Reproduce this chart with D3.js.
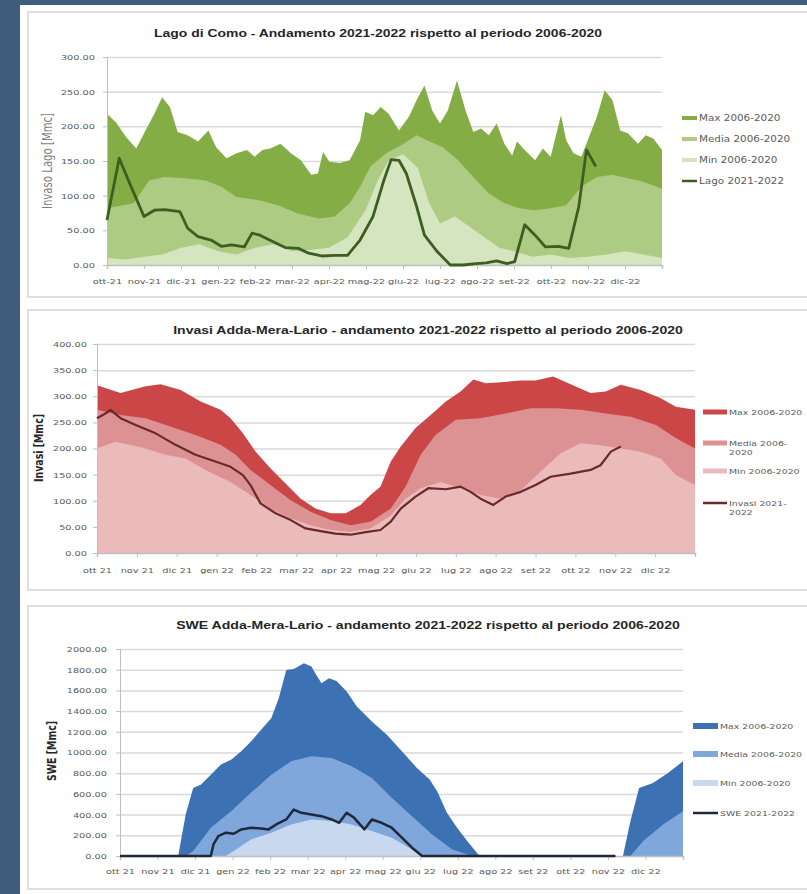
<!DOCTYPE html>
<html>
<head>
<meta charset="utf-8">
<script src="https://cdn.jsdelivr.net/npm/d3@7"></script>
<style>
body{margin:0;background:#3f5d7d}
svg{display:block}
</style>
</head>
<body>
<svg id="chart" width="807" height="894"></svg>
<script>
// month index (0 = start of ott-21, 15 = end of dic-22), value
var comoMonths = ["ott-21","nov-21","dic-21","gen-22","feb-22","mar-22","apr-22","mag-22","giu-22","lug-22","ago-22","set-22","ott-22","nov-22","dic-22"];
var otherMonths = ["ott 21","nov 21","dic 21","gen 22","feb 22","mar 22","apr 22","mag 22","giu 22","lug 22","ago 22","set 22","ott 22","nov 22","dic 22"];

var comoTicks = [0,50,100,150,200,250,300];
var invasiTicks = [0,50,100,150,200,250,300,350,400];
var sweTicks = [0,200,400,600,800,1000,1200,1400,1600,1800,2000];

var comoMax = [[0,218],[0.24,206],[0.51,185],[0.79,168],[1.07,197],[1.28,218],[1.49,242],[1.7,228],[1.91,192],[2.18,187],[2.46,178],[2.74,194],[2.95,170],[3.23,154],[3.5,161],[3.78,166],[3.99,156],[4.2,166],[4.41,168],[4.69,175],[4.97,161],[5.24,151],[5.52,130],[5.7,132],[5.84,163],[6.01,149],[6.29,147],[6.56,151],[6.84,180],[6.98,221],[7.19,216],[7.4,228],[7.61,218],[7.89,194],[8.16,214],[8.37,238],[8.58,259],[8.79,223],[9,204],[9.21,223],[9.46,266],[9.69,223],[9.9,192],[10.11,197],[10.32,187],[10.53,204],[10.74,175],[10.95,158],[11.08,178],[11.29,166],[11.57,151],[11.78,168],[11.99,156],[12.27,216],[12.41,180],[12.61,161],[12.82,156],[13.03,185],[13.24,214],[13.45,252],[13.66,238],[13.87,194],[14.08,190],[14.35,175],[14.56,187],[14.77,182],[15,166]];
var comoMedia = [[0,82],[0.72,89],[1.14,122],[1.56,127],[2.11,125],[2.67,122],[3.09,113],[3.5,98],[4.06,94],[4.62,86],[5.17,74],[5.73,67],[6.15,70],[6.56,89],[6.84,113],[7.12,142],[7.54,161],[7.96,173],[8.37,187],[8.65,180],[9.07,170],[9.49,151],[9.9,127],[10.32,103],[10.74,89],[11.15,82],[11.57,79],[11.99,82],[12.41,86],[12.82,113],[13.24,127],[13.66,130],[14.08,125],[14.49,120],[15,110]];
var comoMin = [[0,10],[0.5,8],[1,12],[1.5,15],[2,25],[2.5,30],[3,20],[3.5,15],[4,25],[4.5,30],[5,20],[5.5,22],[6,25],[6.5,40],[7,80],[7.3,120],[7.6,150],[8,160],[8.4,140],[8.7,90],[9,60],[9.4,70],[9.8,55],[10.2,40],[10.6,25],[11,20],[11.5,12],[12,15],[12.5,10],[13,12],[13.5,15],[14,20],[14.5,15],[15,10]];
var comoLago = [[0,65],[0.33,154],[0.65,113],[1,70],[1.28,79],[1.56,80],[1.97,77],[2.18,53],[2.46,41],[2.81,36],[3.09,27],[3.37,29],[3.71,26],[3.92,46],[4.13,43],[4.48,34],[4.83,25],[5.17,24],[5.45,17],[5.8,13],[6.15,14],[6.5,14],[6.84,36],[7.19,70],[7.47,120],[7.68,152],[7.89,151],[8.09,132],[8.37,84],[8.58,43],[8.93,19],[9.28,0],[9.62,0],[9.97,2],[10.25,3],[10.53,6],[10.81,2],[11.02,5],[11.29,58],[11.57,43],[11.85,26],[12.2,27],[12.48,24],[12.75,84],[12.96,166],[13.21,142]];

var invasiMax = [[0,321],[0.59,306],[1.22,319],[1.59,323],[2.1,312],[2.6,290],[3.1,274],[3.35,258],[3.66,229],[3.98,194],[4.35,162],[4.73,133],[5.11,104],[5.48,85],[5.86,76],[6.24,76],[6.61,92],[6.86,111],[7.11,127],[7.37,175],[7.62,204],[7.99,239],[8.37,264],[8.75,290],[9.12,309],[9.44,332],[9.75,325],[10.13,327],[10.63,330],[11,330],[11.44,338],[11.88,323],[12.38,306],[12.76,309],[13.14,322],[13.64,312],[14.14,296],[14.52,280],[15,274]];
var invasiMedia = [[0,274],[0.59,264],[1.22,258],[1.84,242],[2.47,226],[3.1,207],[3.48,188],[3.85,159],[4.35,130],[4.86,101],[5.36,79],[5.86,63],[6.36,53],[6.86,60],[7.37,85],[7.74,127],[8.12,188],[8.49,226],[9,255],[9.62,258],[10.25,267],[10.88,277],[11.51,277],[12.13,274],[12.76,267],[13.39,261],[14.02,245],[14.52,220],[15,200]];
var invasiMin = [[0,200],[0.46,213],[1.09,203],[1.72,188],[2.22,181],[2.72,159],[3.35,136],[3.85,111],[4.35,85],[4.86,66],[5.36,53],[5.86,44],[6.36,40],[6.86,47],[7.37,72],[7.74,104],[8.12,124],[8.62,136],[9.12,124],[9.62,111],[10.13,104],[10.63,120],[11.13,156],[11.63,191],[12.13,210],[12.63,206],[13.14,200],[13.64,194],[14.14,181],[14.52,149],[15,130]];
var invasi2122 = [[0,258],[0.21,267],[0.34,274],[0.59,258],[0.97,245],[1.47,229],[1.97,207],[2.47,188],[2.97,175],[3.35,165],[3.66,149],[3.85,130],[4.1,95],[4.48,76],[4.86,63],[5.23,47],[5.61,42],[5.98,37],[6.36,35],[6.74,40],[7.11,44],[7.37,60],[7.62,85],[7.99,108],[8.31,124],[8.75,122],[9.12,127],[9.37,117],[9.62,104],[9.94,92],[10.25,108],[10.63,117],[11,130],[11.38,146],[11.88,152],[12.38,159],[12.63,168],[12.89,194],[13.14,204]];

var sweMax = [[0,0],[1.55,0],[1.75,401],[1.95,658],[2.16,690],[2.42,786],[2.69,883],[2.96,931],[3.23,1011],[3.49,1107],[3.76,1220],[4.03,1332],[4.23,1525],[4.43,1798],[4.63,1807],[4.9,1862],[5.1,1830],[5.23,1749],[5.37,1669],[5.57,1717],[5.77,1692],[6.04,1589],[6.31,1445],[6.71,1300],[7.11,1172],[7.51,1011],[7.91,851],[8.25,738],[8.45,626],[8.71,417],[8.98,273],[9.25,144],[9.58,0],[13.4,0],[13.6,337],[13.83,658],[14.2,706],[14.6,803],[15,915]];
var sweMedia = [[0,0],[1.75,0],[1.95,48],[2.42,273],[2.96,433],[3.49,610],[4.03,786],[4.56,915],[5.1,963],[5.64,947],[6.17,867],[6.71,754],[7.24,562],[7.78,385],[8.31,209],[8.85,64],[9.38,0],[13.6,0],[13.94,144],[14.47,305],[15,433]];
var sweMin = [[0,0],[2.82,0],[3.09,64],[3.49,160],[4.03,225],[4.56,305],[5.1,353],[5.64,337],[6.17,305],[6.71,241],[7.24,177],[7.78,64],[8.05,0],[15,0]];
var swe2122 = [[0,0],[2.42,0],[2.49,112],[2.62,193],[2.82,225],[3.03,215],[3.23,257],[3.49,273],[3.76,266],[3.96,257],[4.16,305],[4.43,353],[4.63,449],[4.83,417],[5.1,401],[5.37,385],[5.64,353],[5.84,321],[6.04,417],[6.24,369],[6.51,257],[6.71,353],[6.97,321],[7.24,273],[7.51,177],[7.78,80],[8.05,0],[13.2,0]];

var comoLegend = [["Max 2006-2020"],["Media 2006-2020"],["Min 2006-2020"],["Lago 2021-2022"]];
var invasiLegend = [["Max 2006-2020"],["Media 2006-","2020"],["Min 2006-2020"],["Invasi 2021-","2022"]];
var sweLegend = [["Max 2006-2020"],["Media 2006-2020"],["Min 2006-2020"],["SWE 2021-2022"]];

var SX = 1.3; // the reference is stretched sideways
var FONT = "DejaVu Sans, sans-serif";

var svg = d3.select("#chart");
svg.append("rect").attr("width",807).attr("height",894).attr("fill","#3f5d7d");
svg.append("rect").attr("x",20).attr("y",5).attr("width",800).attr("height",900).attr("fill","#ffffff");

function fit(sel, target, fs0){
  sel.attr("font-size", fs0);
  var w = sel.node().getComputedTextLength();
  sel.attr("font-size", fs0 * target / w);
}

function drawPanel(p){
  var g = svg.append("g");
  g.append("rect").attr("x",28).attr("y",p.boxTop).attr("width",800).attr("height",p.boxH)
    .attr("fill","#fff").attr("stroke","#d3d3d3").attr("stroke-width",1.5);

  var x = d3.scaleLinear().domain([0,15]).range([p.left,p.right]);
  var y = d3.scaleLinear().domain([0,d3.max(p.ticks)]).range([p.bottom,p.top]);

  // gridlines
  g.append("g").attr("transform","translate("+p.left+",0)")
    .call(d3.axisLeft(y).tickValues(p.ticks.slice(1)).tickSize(-(p.right-p.left)).tickFormat(""))
    .call(function(s){ s.select(".domain").remove(); })
    .selectAll("line").attr("stroke","#d9d9d9").attr("stroke-width",1.5);

  var area = d3.area().x(function(d){return x(d[0]);}).y0(y(0)).y1(function(d){return y(d[1]);});
  p.areas.forEach(function(a,i){
    g.append("path").datum(a).attr("d",area).attr("fill",p.colors[i]);
  });

  // y axis
  var ya = g.append("g").attr("transform","translate("+p.left+",0)")
    .call(d3.axisLeft(y).tickValues(p.ticks).tickSize(4).tickFormat(d3.format(".2f")));
  ya.select(".domain").attr("stroke","#bfbfbf");
  ya.selectAll("line").attr("stroke","#bfbfbf");
  ya.selectAll("text").attr("font-family",FONT).attr("font-size",7.5).attr("fill","#595959")
    .attr("x",-p.yPad/SX).attr("transform","scale("+SX+",1)");

  // x axis
  var xa = g.append("g").attr("transform","translate(0,"+p.bottom+")")
    .call(d3.axisBottom(x).tickValues(d3.range(15)).tickSize(4).tickPadding(p.xPad)
      .tickFormat(function(d,i){return p.months[i];}));
  xa.select(".domain").attr("stroke","#bfbfbf").attr("stroke-width",1.5);
  xa.selectAll("line").attr("stroke","#bfbfbf");
  xa.selectAll("text").attr("font-family",FONT).attr("font-size",p.xFs).attr("fill","#595959")
    .attr("transform","scale("+SX+",1)");

  // current year line
  g.append("path").datum(p.line)
    .attr("d", d3.line().x(function(d){return x(d[0]);}).y(function(d){return y(d[1]);}))
    .attr("fill","none").attr("stroke",p.colors[3]).attr("stroke-width",p.lw)
    .attr("stroke-linejoin","round");

  // title
  var t = g.append("text").attr("transform","translate("+p.titleX+","+p.titleY+") scale("+SX+",1)")
    .attr("text-anchor","middle").attr("dy","0.35em")
    .attr("font-family","Liberation Sans, sans-serif").attr("font-weight","bold").attr("fill","#262626")
    .text(p.title);
  fit(t, p.titleW/SX, 11);

  // y title
  var yt = g.append("text").attr("transform","translate("+p.ytX+","+p.ytY+") rotate(-90) scale(1,"+SX+")")
    .attr("text-anchor","middle").attr("dy","0.35em")
    .attr("font-family",FONT).attr("font-weight",p.ytBold ? "bold" : "normal")
    .attr("fill",p.ytBold ? "#262626" : "#7f7f7f").text(p.yTitle);
  fit(yt, p.ytLen, 8);

  // legend
  p.legend.forEach(function(lines,i){
    var ly = p.legY[i];
    g.append("line").attr("x1",p.legX).attr("x2",p.legX+p.legSw).attr("y1",ly).attr("y2",ly)
      .attr("stroke",p.colors[i]).attr("stroke-width", i==3 ? 2.5 : p.legThick);
    var tx = g.append("text").attr("transform","translate("+(p.legX+p.legSw+2)+","+ly+") scale("+SX+",1)")
      .attr("font-family",FONT).attr("font-size",p.legFs).attr("fill","#595959");
    lines.forEach(function(s,k){
      tx.append("tspan").attr("x",0).attr("dy", k==0 ? "0.35em" : "1.25em").text(s);
    });
  });
}

drawPanel({
  boxTop:12, boxH:285, left:107, right:662, top:57, bottom:265,
  ticks:comoTicks, months:comoMonths, yPad:12, xPad:10, xFs:7.5,
  areas:[comoMax,comoMedia,comoMin], line:comoLago, lw:2.8,
  colors:["#84ae45","#adcb83","#d5e5bf","#3d5e20"],
  title:"Lago di Como - Andamento 2021-2022 rispetto al periodo 2006-2020", titleX:378, titleY:33, titleW:448,
  yTitle:"Invaso Lago [Mmc]", ytX:47, ytY:161, ytLen:96, ytBold:false,
  legend:comoLegend, legX:682, legSw:15, legThick:4, legY:[118,139,160,181], legFs:8
});

drawPanel({
  boxTop:310, boxH:280, left:97, right:695, top:344, bottom:553,
  ticks:invasiTicks, months:otherMonths, yPad:10, xPad:11, xFs:7.5,
  areas:[invasiMax,invasiMedia,invasiMin], line:invasi2122, lw:2.2,
  colors:["#cb4646","#dc9292","#ebbaba","#6a2a2a"],
  title:"Invasi Adda-Mera-Lario - andamento 2021-2022 rispetto al periodo 2006-2020", titleX:428, titleY:330, titleW:510,
  yTitle:"Invasi [Mmc]", ytX:39, ytY:448, ytLen:68, ytBold:true,
  legend:invasiLegend, legX:703, legSw:24, legThick:5, legY:[412,443,471,503], legFs:7.2
});

drawPanel({
  boxTop:606, boxH:283, left:120, right:683, top:649, bottom:856,
  ticks:sweTicks, months:otherMonths, yPad:13, xPad:9, xFs:7.5,
  areas:[sweMax,sweMedia,sweMin], line:swe2122, lw:2.5,
  colors:["#3c71b4","#7fa7db","#c8d9ef","#1e2a38"],
  title:"SWE Adda-Mera-Lario - andamento 2021-2022 rispetto al periodo 2006-2020", titleX:428, titleY:625, titleW:504,
  yTitle:"SWE [Mmc]", ytX:52, ytY:751, ytLen:60, ytBold:true,
  legend:sweLegend, legX:693, legSw:25, legThick:6, legY:[726,754,783,813], legFs:7.2
});
</script>
</body>
</html>
